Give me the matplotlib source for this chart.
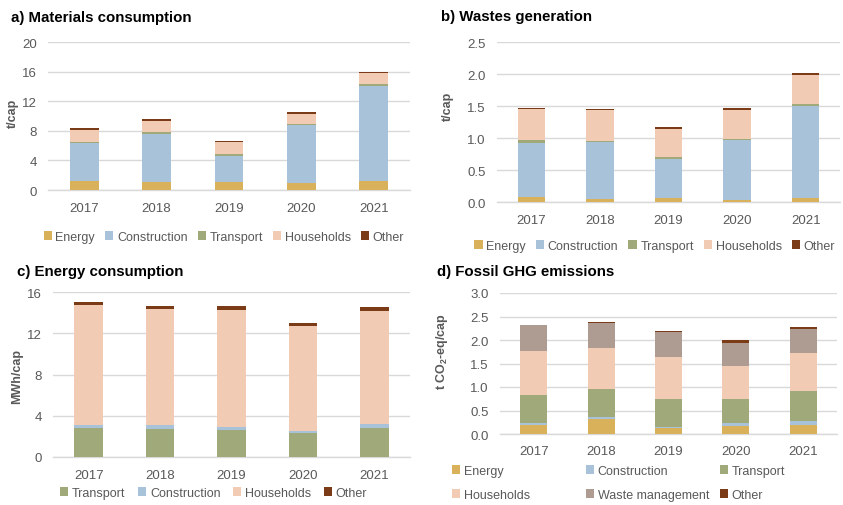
import matplotlib
matplotlib.use("Agg")
import matplotlib.pyplot as plt
from matplotlib.legend import Legend
import numpy as np

plt.rcParams["font.family"] = ["Liberation Sans", "DejaVu Sans"]

years = ["2017", "2018", "2019", "2020", "2021"]

# a) materials consumption, t/cap
mat_energy = [1.22, 1.13, 1.13, 0.90, 1.26]
mat_construction = [5.13, 6.47, 3.51, 7.88, 12.74]
mat_transport = [0.18, 0.28, 0.26, 0.14, 0.30]
mat_households = [1.62, 1.49, 1.54, 1.38, 1.50]
mat_other = [0.18, 0.27, 0.18, 0.30, 0.20]

# b) wastes generation, t/cap
waste_energy = [0.073, 0.047, 0.058, 0.037, 0.058]
waste_construction = [0.847, 0.893, 0.612, 0.925, 1.448]
waste_transport = [0.050, 0.017, 0.026, 0.021, 0.024]
waste_households = [0.484, 0.476, 0.444, 0.457, 0.460]
waste_other = [0.021, 0.027, 0.030, 0.024, 0.020]

# c) energy consumption, MWh/cap
en_transport = [2.86, 2.76, 2.66, 2.34, 2.86]
en_construction = [0.26, 0.36, 0.23, 0.22, 0.32]
en_households = [11.62, 11.26, 11.41, 10.14, 10.97]
en_other = [0.26, 0.26, 0.34, 0.29, 0.40]

# d) fossil GHG emissions, t CO2-eq/cap
ghg_energy = [0.20, 0.32, 0.12, 0.18, 0.19]
ghg_construction = [0.04, 0.04, 0.03, 0.05, 0.08]
ghg_transport = [0.59, 0.59, 0.59, 0.51, 0.65]
ghg_households = [0.93, 0.885, 0.89, 0.71, 0.80]
ghg_waste = [0.55, 0.535, 0.54, 0.49, 0.51]
ghg_other = [0.01, 0.02, 0.03, 0.05, 0.05]

COLORS = {
    "Energy": "#D8B15A",
    "Construction": "#A7C2D9",
    "Transport": "#9FA97A",
    "Households": "#F2CBB4",
    "Waste management": "#AE9C93",
    "Other": "#7A3B16",
}
GRID = "#D9D9D9"
TEXT = "#595959"

W, H = 843, 506
fig = plt.figure(figsize=(W / 100, H / 100), dpi=100)


def px_axes(x0, y0, x1, y1):
    return fig.add_axes([x0 / W, 1 - y1 / H, (x1 - x0) / W, (y1 - y0) / H])


def stacked(ax, series, ymax, step, fmt, xpad):
    x = np.arange(len(years))
    bottom = np.zeros(len(years))
    handles = {}
    for name, values in series:
        bars = ax.bar(x, values, 0.4, bottom=bottom, color=COLORS[name],
                      edgecolor="none", zorder=3)
        handles[name] = bars
        bottom += np.array(values)
    ax.set_xlim(-0.5, len(years) - 0.5)
    ax.set_ylim(0, ymax)
    ticks = np.arange(0, ymax + step / 2, step)
    ax.set_yticks(ticks)
    ax.set_yticklabels([fmt.format(t) for t in ticks])
    ax.set_xticks(x)
    ax.set_xticklabels(years)
    ax.grid(axis="y", color=GRID, linewidth=1, zorder=0)
    for side in ["top", "right", "left"]:
        ax.spines[side].set_visible(False)
    ax.spines["bottom"].set_color(GRID)
    ax.spines["bottom"].set_linewidth(1)
    ax.tick_params(axis="both", length=0, labelsize=9.5, labelcolor=TEXT)
    ax.tick_params(axis="x", pad=xpad)
    ax.tick_params(axis="y", pad=8)
    return handles


def title(x, y, text):
    fig.text(x / W, 1 - y / H, text, fontsize=10.8, fontweight="bold",
             ha="left", va="center", color="black")


def ylab(x, y, text):
    fig.text(x / W, 1 - y / H, text, fontsize=9, fontweight="bold",
             rotation=90, ha="center", va="center", color=TEXT)


LEG = dict(frameon=False, handlelength=0.65, handleheight=0.65,
           handletextpad=0.3, fontsize=9, labelcolor=TEXT,
           borderaxespad=0, borderpad=0)

# a) Materials consumption
ax_a = px_axes(48, 43, 410, 191)
h = stacked(ax_a, [("Energy", mat_energy), ("Construction", mat_construction),
                   ("Transport", mat_transport), ("Households", mat_households),
                   ("Other", mat_other)], 20, 4, "{:.0f}", 9)
names = ["Energy", "Construction", "Transport", "Households", "Other"]
ax_a.legend([h[n] for n in names], names, ncol=5, loc="center",
            bbox_to_anchor=(0.486, (191 - 238) / 148), columnspacing=0.8, **LEG)
title(11, 18, "a) Materials consumption")
ylab(13, 113, "t/cap")

# b) Wastes generation
ax_b = px_axes(497, 43, 840, 203)
h = stacked(ax_b, [("Energy", waste_energy), ("Construction", waste_construction),
                   ("Transport", waste_transport), ("Households", waste_households),
                   ("Other", waste_other)], 2.5, 0.5, "{:.1f}", 9)
ax_b.legend([h[n] for n in names], names, ncol=5, loc="center",
            bbox_to_anchor=(0.46, (203 - 247) / 160), columnspacing=0.8, **LEG)
title(441, 17, "b) Wastes generation")
ylab(448, 106, "t/cap")

# c) Energy consumption
ax_c = px_axes(53, 293, 410, 458)
h = stacked(ax_c, [("Transport", en_transport), ("Construction", en_construction),
                   ("Households", en_households), ("Other", en_other)],
            16, 4, "{:.0f}", 9)
names_c = ["Transport", "Construction", "Households", "Other"]
ax_c.legend([h[n] for n in names_c], names_c, ncol=4, loc="center",
            bbox_to_anchor=(0.45, (458 - 494) / 165), columnspacing=1.0, **LEG)
title(17, 272, "c) Energy consumption")
ylab(17, 377, "MWh/cap")

# d) Fossil GHG emissions, legend laid out in three equal columns
ax_d = px_axes(500, 294, 837, 435)
h = stacked(ax_d, [("Energy", ghg_energy), ("Construction", ghg_construction),
                   ("Transport", ghg_transport), ("Households", ghg_households),
                   ("Waste management", ghg_waste), ("Other", ghg_other)],
            3.0, 0.5, "{:.1f}", 8)
columns_d = [(452, ["Energy", "Households"]),
             (586, ["Construction", "Waste management"]),
             (720, ["Transport", "Other"])]
for xcol, col in columns_d:
    leg = Legend(ax_d, [h[n] for n in col], col, ncol=1, loc="upper left",
                 bbox_to_anchor=((xcol - 500) / 337, (435 - 466) / 141),
                 labelspacing=0.95, **LEG)
    ax_d.add_artist(leg)
title(437, 272, "d) Fossil GHG emissions")
ylab(442, 352, r"t CO$_\mathregular{2}$-eq/cap")

fig.savefig("out.png", dpi=100)
